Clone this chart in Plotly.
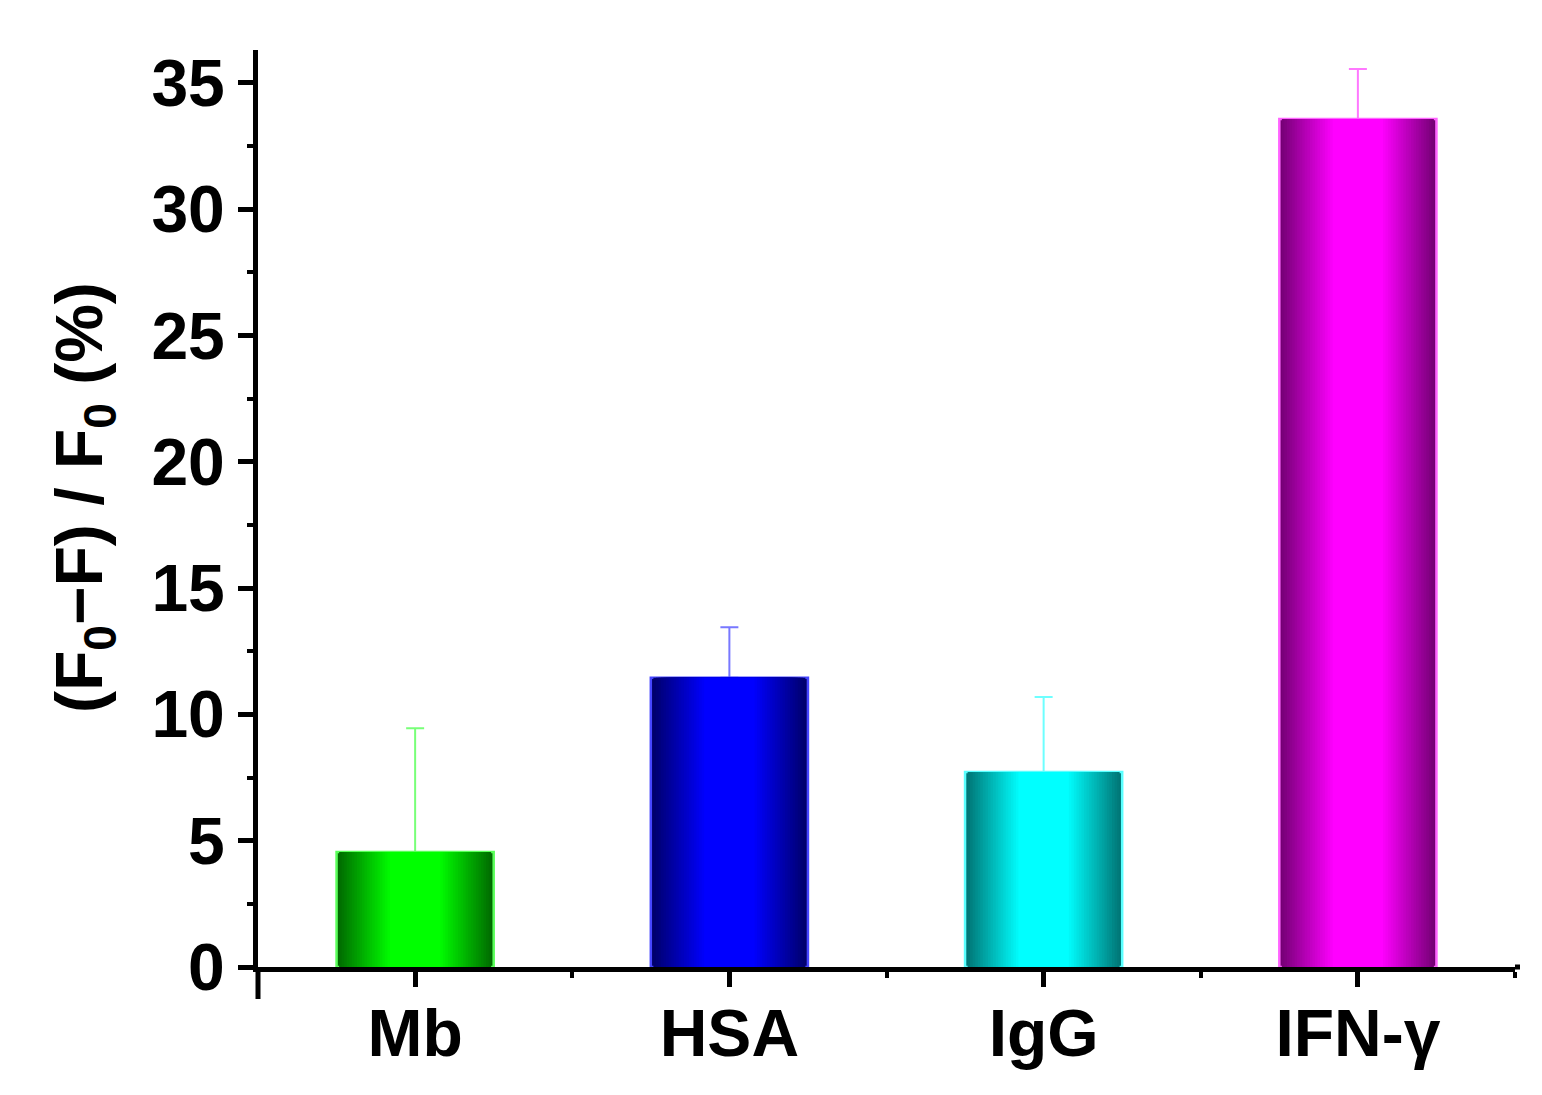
import plotly.graph_objects as go

categories = ["Mb", "HSA", "IgG", "IFN-γ"]
values = [4.55, 11.45, 7.72, 33.57]
errors = [4.9, 2.0, 2.97, 1.98]
dark_colors = [(0, 105, 0), (0, 0, 105), (0, 115, 115), (115, 0, 115)]
bright_colors = [(0, 255, 0), (0, 0, 255), (0, 255, 255), (255, 0, 255)]
edge_colors = ["rgb(90,255,90)", "rgb(70,70,255)", "rgb(90,255,255)", "rgb(255,100,255)"]
err_colors = ["rgb(120,255,120)", "rgb(120,120,255)", "rgb(110,255,255)", "rgb(255,120,255)"]
y_ticks = [0, 5, 10, 15, 20, 25, 30, 35]

xpos = list(range(len(categories)))
BAR_W = 0.5
N = 22
PLATEAU = 0.32

fig = go.Figure()

# error bars first, so the lower cap hides under the bar top
for j in range(len(categories)):
    fig.add_trace(go.Bar(
        x=[xpos[j]], y=[values[j]], width=BAR_W,
        marker=dict(color="rgba(0,0,0,0)", line=dict(width=0)),
        error_y=dict(type="data", symmetric=False, array=[errors[j]], arrayminus=[0],
                     color=err_colors[j], thickness=2, width=9),
        showlegend=False, hoverinfo="skip"))

for i in range(N):
    t = i / (N - 1)
    w = BAR_W * (1 - t * (1 - PLATEAU))
    cols = []
    for d, b in zip(dark_colors, bright_colors):
        c = tuple(int(round(d[k] + (b[k] - d[k]) * t)) for k in range(3))
        cols.append("rgb(%d,%d,%d)" % c)
    line = dict(color=edge_colors, width=2.5) if i == 0 else dict(width=0)
    fig.add_trace(go.Bar(x=xpos, y=values, width=w, marker=dict(color=cols, line=line),
                         showlegend=False, hoverinfo="skip" if i else None))

font = "Liberation Sans, Arial, sans-serif"
FS = 66
fig.update_layout(
    barmode="overlay",
    width=1542, height=1095,
    margin=dict(l=250, r=35, t=42, b=136),
    plot_bgcolor="white", paper_bgcolor="white",
    font=dict(family=font, size=FS, color="black"),
    xaxis=dict(
        range=[-0.5, 3.5], tickvals=xpos, ticktext=["<b>%s</b>" % c for c in categories],
        showline=True, linewidth=5, linecolor="black", mirror=False,
        ticks="outside", ticklen=15, tickwidth=5, tickcolor="black",
        minor=dict(tickvals=[-0.5, 0.5, 1.5, 2.5, 3.5], ticks="outside", ticklen=6, tickwidth=4, tickcolor="black"),
        showgrid=False, zeroline=False, ticklabelstandoff=-10,
        tickfont=dict(family=font, size=FS, color="black"),
    ),
    yaxis=dict(
        range=[0, 36.3], tickvals=y_ticks, ticktext=["<b>%d</b>" % v for v in y_ticks],
        showline=True, linewidth=5, linecolor="black",
        ticks="outside", ticklen=15, tickwidth=5, tickcolor="black",
        minor=dict(dtick=2.5, tick0=0, ticks="outside", ticklen=6, tickwidth=4, tickcolor="black"),
        showgrid=False, zeroline=False,
        tickfont=dict(family=font, size=FS, color="black"),
    ),
    shapes=[dict(type="line", xref="paper", yref="paper", x0=0, x1=0, y0=0, y1=-32 / 917,
                 line=dict(color="black", width=5)),
            dict(type="line", xref="paper", yref="paper", x0=1, x1=1 + 5 / 1257, y0=0, y1=0,
                 line=dict(color="black", width=5))],
    annotations=[dict(
        text="<b>(F<sub>0</sub>\u2212F) / F<sub>0</sub> (%)</b>",
        xref="paper", yref="paper", x=-(250 - 76) / 1257, y=(959 - 490) / 917,
        xanchor="center", yanchor="middle", textangle=-90, showarrow=False,
        font=dict(family=font, size=FS, color="black"))],
)

fig.write_html("out.html")
